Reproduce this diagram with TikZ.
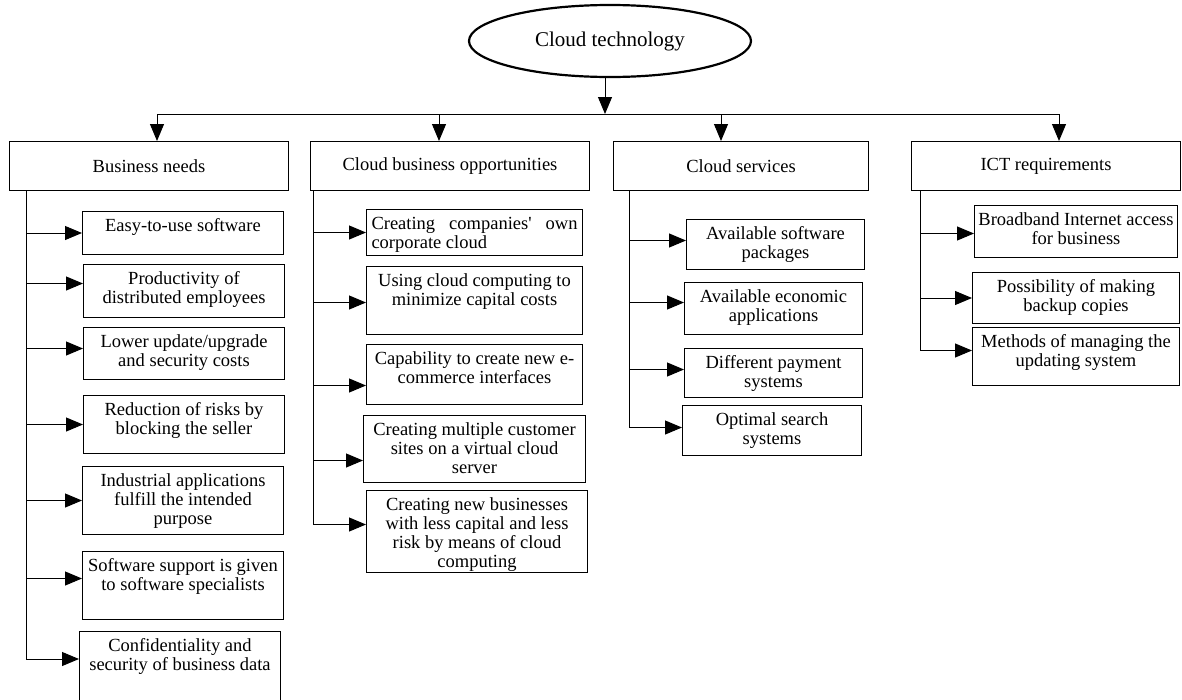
\documentclass[tikz,border=0pt]{standalone}
\usepackage{fontspec}
\setmainfont{Liberation Serif}
\usetikzlibrary{shapes.geometric, arrows.meta}
\tikzset{
  arrow/.style={line width=1pt, -{Triangle[length=17pt,width=14pt]}},
  line/.style={line width=1pt},
  head/.style={draw, line width=1pt, inner sep=0pt, anchor=north west, minimum height=49pt},
  leaf/.style={draw, line width=1pt, inner sep=0pt, anchor=north west},
}
\newcommand{\leaftext}[3]{\parbox[c][#2][t]{#1}{\centering\rule{0pt}{20pt}#3}}

\begin{document}
\begin{tikzpicture}[x=1pt, y=-1pt, font=\fontsize{18.5pt}{19pt}\selectfont]
\useasboundingbox (0,0) rectangle (1182,699);

% root and first level
\node[draw, ellipse, line width=2.2pt, minimum width=282pt, minimum height=72pt, inner sep=0pt,
  font=\fontsize{21pt}{24pt}\selectfont] (root) at (610,41) {Cloud technology};

\node[head, minimum width=279pt] (bn) at (9,141) {Business needs};
\node[head, minimum width=279pt] (cbo) at (310,141) {Cloud business opportunities};
\node[head, minimum width=255pt] (cs) at (613,141) {Cloud services};
\node[head, minimum width=269pt] (ict) at (911,141) {ICT requirements};

\coordinate (bar) at (605,114);
\coordinate (jbn) at (157,114);
\coordinate (jcbo) at (439,114);
\coordinate (jcs) at (721,114);
\coordinate (jict) at (1059,114);
\draw[arrow] (root.south -| bar) -- (bar);
\draw[line] (jbn) -- (jict);
\foreach \j/\h in {jbn/bn, jcbo/cbo, jcs/cs, jict/ict}
  \draw[arrow] (\j) -- (\j |- \h.north);

% business needs
\node[leaf] (bn1) at (82,211) {\leaftext{201pt}{43pt}{Easy-to-use software}};
\node[leaf] (bn2) at (83,264) {\leaftext{201pt}{53pt}{Productivity of\\distributed employees}};
\node[leaf] (bn3) at (83,327) {\leaftext{201pt}{52pt}{Lower update/upgrade\\and security costs}};
\node[leaf] (bn4) at (83,395) {\leaftext{201pt}{58pt}{Reduction of risks by\\blocking the seller}};
\node[leaf] (bn5) at (82,466) {\leaftext{201pt}{68pt}{Industrial applications\\fulfill the intended\\purpose}};
\node[leaf] (bn6) at (82,551) {\leaftext{201pt}{68pt}{Software support is given\\to software specialists}};
\node[leaf] (bn7) at (79,631) {\leaftext{201pt}{70pt}{Confidentiality and\\security of business data}};

% cloud business opportunities
\node[leaf] (cbo1) at (366,209) {\leaftext{216pt}{46pt}{\makebox[206pt][s]{Creating companies\textquotesingle{} own}\\\makebox[206pt][l]{corporate cloud}}};
\node[leaf] (cbo2) at (366,266) {\leaftext{216pt}{68pt}{Using cloud computing to\\minimize capital costs}};
\node[leaf] (cbo3) at (366,344) {\leaftext{216pt}{60pt}{Capability to create new e-\\commerce interfaces}};
\node[leaf] (cbo4) at (363,415) {\leaftext{222pt}{67pt}{Creating multiple customer\\sites on a virtual cloud\\server}};
\node[leaf] (cbo5) at (366,490) {\leaftext{221pt}{82pt}{Creating new businesses\\with less capital and less\\risk by means of cloud\\computing}};

% cloud services
\node[leaf] (cs1) at (686,219) {\leaftext{178pt}{50pt}{Available software\\packages}};
\node[leaf] (cs2) at (684,282) {\leaftext{178pt}{52pt}{Available economic\\applications}};
\node[leaf] (cs3) at (684,348) {\leaftext{178pt}{49pt}{Different payment\\systems}};
\node[leaf] (cs4) at (682,405) {\leaftext{179pt}{50pt}{Optimal search\\systems}};

% ICT requirements
\node[leaf] (ict1) at (974,205) {\leaftext{203pt}{52pt}{Broadband Internet access\\for business}};
\node[leaf] (ict2) at (972,272) {\leaftext{207pt}{51pt}{Possibility of making\\backup copies}};
\node[leaf] (ict3) at (972,327) {\leaftext{207pt}{58pt}{Methods of managing the\\updating system}};

% trunks and branches
\coordinate (bnT) at (26,190);
\coordinate (cboT) at (313,190);
\coordinate (csT) at (629,190);
\coordinate (ictT) at (920,190);

\draw[arrow] (bnT) |- ([yshift=7.5pt]bn7.west);
\foreach \n/\s in {1/0,2/7.5,3/5,4/0,5/0,6/7} {
  \coordinate (bnA\n) at ([yshift=\s pt]bn\n.west);
  \draw[arrow] (bnT |- bnA\n) -- (bnA\n);
}

\draw[arrow] (cboT) |- ([yshift=7pt]cbo5.west);
\foreach \n/\s in {1/0,2/-2,3/-11,4/-11.5} {
  \coordinate (cboA\n) at ([yshift=\s pt]cbo\n.west);
  \draw[arrow] (cboT |- cboA\n) -- (cboA\n);
}

\draw[arrow] (csT) |- ([yshift=3pt]cs4.west);
\foreach \n/\s in {1/4,2/6,3/3.5} {
  \coordinate (csA\n) at ([yshift=\s pt]cs\n.west);
  \draw[arrow] (csT |- csA\n) -- (csA\n);
}

\draw[arrow] (ictT) |- ([yshift=6pt]ict3.west);
\foreach \n/\s in {1/-2,2/0} {
  \coordinate (ictA\n) at ([yshift=\s pt]ict\n.west);
  \draw[arrow] (ictT |- ictA\n) -- (ictA\n);
}
\end{tikzpicture}
\end{document}
